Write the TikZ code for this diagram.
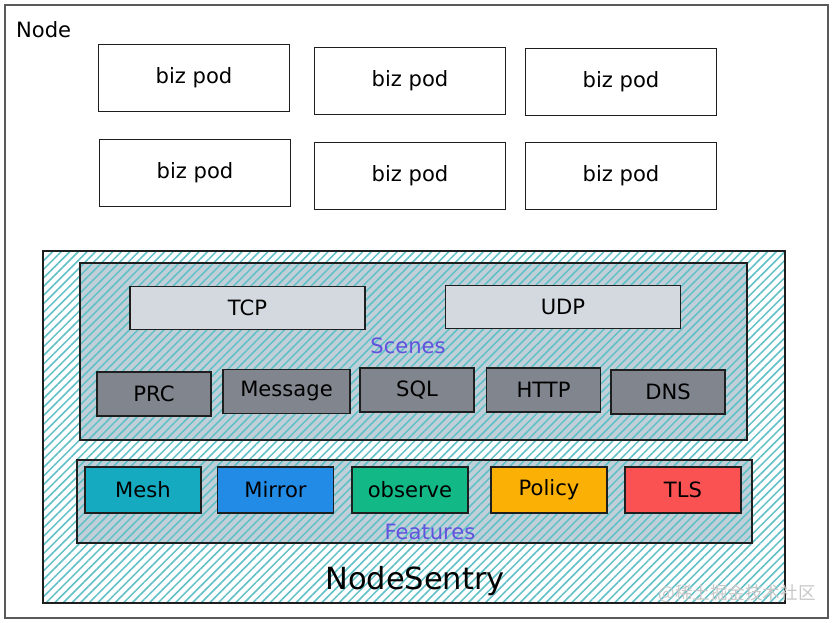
\documentclass[tikz,border=0pt]{standalone}
\usepackage{fontspec}
\setmainfont{DejaVu Sans}
\newfontfamily\cjkfont{Noto Sans CJK SC}
\usepackage{tikz}
\usetikzlibrary{patterns.meta}
\definecolor{myink}{RGB}{30,30,30}
\definecolor{myframe}{RGB}{90,90,90}
\definecolor{myhatch}{RGB}{95,192,200}
\definecolor{myslate}{RGB}{192,207,216}
\definecolor{mylight}{RGB}{212,217,224}
\definecolor{mygray}{RGB}{128,133,142}
\definecolor{myviolet}{RGB}{98,82,222}
\definecolor{fmesh}{RGB}{21,170,191}
\definecolor{fmirror}{RGB}{34,139,230}
\definecolor{fobserve}{RGB}{18,184,134}
\definecolor{fpolicy}{RGB}{250,176,5}
\definecolor{ftls}{RGB}{250,82,82}
\tikzset{
  pod/.style={rectangle, draw=myink, fill=white, line width=1.1pt,
    minimum width=5.73cm, minimum height=2.0cm, font=\fontsize{18}{22}\selectfont},
  proto/.style={rectangle, draw=myink, fill=mylight, line width=1.3pt,
    minimum width=7.05cm, minimum height=1.3cm, font=\fontsize{18}{22}\selectfont},
  scene/.style={rectangle, draw=myink, fill=mygray, line width=1.3pt,
    minimum width=3.42cm, minimum height=1.32cm, font=\fontsize{18}{22}\selectfont},
  feature/.style={rectangle, draw=myink, line width=1.3pt,
    minimum width=3.48cm, minimum height=1.38cm, font=\fontsize{18}{22}\selectfont},
  group/.style={rectangle, draw=myink, line width=1.1pt,
    preaction={fill=#1},
    preaction={pattern={Lines[angle=45, distance=5.2pt, line width=1.3pt]}, pattern color=myhatch}},
  tag/.style={text=myviolet, font=\fontsize{18}{22}\selectfont}
}

\begin{document}
\begin{tikzpicture}[x=0.03cm, y=-0.03cm]
  \useasboundingbox (0,0) rectangle (833,623);

  % Node frame
  \node[rectangle, draw=myframe, line width=1.2pt, minimum width=24.69cm, minimum height=18.39cm] (frame) at (416.5,311.5) {};
  \node[anchor=west, font=\fontsize{18}{22}\selectfont] (nodelbl) at (12,30) {Node};

  % Pods
  \node[pod] (pod1) at (194,78) {biz pod};
  \node[pod] (pod2) at (410,81) {biz pod};
  \node[pod] (pod3) at (621,82) {biz pod};
  \node[pod] (pod4) at (195,173) {biz pod};
  \node[pod] (pod5) at (410,176) {biz pod};
  \node[pod] (pod6) at (621,176) {biz pod};

  % NodeSentry
  \node[group=white, minimum width=22.26cm, minimum height=10.56cm] (sentry) at (414,427) {};
  \node[font=\fontsize{26}{30}\selectfont] (sentrylbl) at (415,581) {NodeSentry};

  % Scenes
  \node[group=myslate, minimum width=20.01cm, minimum height=5.31cm] (scenes) at (413.5,351.5) {};
  \node[proto] (tcp) at (247.5,308) {TCP};
  \node[proto] (udp) at (563,307) {UDP};
  \node[tag] (sceneslbl) at (408,346) {Scenes};
  \node[scene] (prc) at (154,394) {PRC};
  \node[scene, minimum width=3.81cm] (msg) at (286.5,391.5) {Message};
  \node[scene] (sql) at (417,390) {SQL};
  \node[scene] (http) at (543.5,390) {HTTP};
  \node[scene] (dns) at (668,392) {DNS};

  % Features
  \node[group=myslate, minimum width=20.25cm, minimum height=2.49cm] (features) at (414.5,501.5) {};
  \node[feature, fill=fmesh] (mesh) at (143,490) {Mesh};
  \node[feature, fill=fmirror] (mirror) at (275.5,490) {Mirror};
  \node[feature, fill=fobserve] (observe) at (410,490) {observe};
  \node[feature, fill=fpolicy] (policy) at (549,490) {Policy};
  \node[feature, fill=ftls] (tls) at (683,490) {TLS};
  \node[tag] (featureslbl) at (430,532) {Features};

  % Watermark
  \node[text=black!22, font=\cjkfont\fontsize{15}{18}\selectfont] (mark) at (737,594) {@稀土掘金技术社区};
\end{tikzpicture}
\end{document}
